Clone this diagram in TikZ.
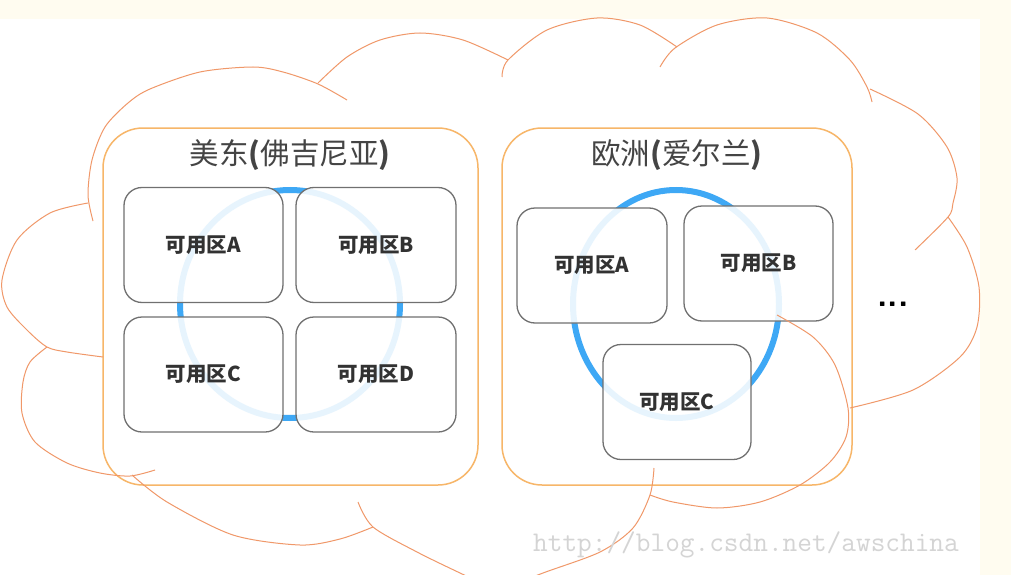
\documentclass[tikz,border=0pt]{standalone}
\usepackage{fontspec}
\newfontfamily\cjk{Noto Sans CJK SC}
\usepackage{tikz}
\usetikzlibrary{positioning}
\definecolor{paper}{RGB}{255,252,240}
\definecolor{cloudline}{RGB}{240,152,105}
\definecolor{regionline}{RGB}{247,182,105}
\definecolor{zoneline}{RGB}{112,112,112}
\definecolor{zonetext}{RGB}{50,50,50}
\definecolor{titletext}{RGB}{68,68,68}
\definecolor{ringblue}{RGB}{62,168,245}
\definecolor{markgray}{RGB}{212,212,212}
\tikzset{>=latex,
  cloudarc/.style={draw=cloudline,line width=1pt},
  region/.style={draw=regionline,line width=1.5pt,rounded corners=40pt,
    minimum height=357pt,inner sep=0pt},
  zone/.style={draw=zoneline,line width=1.3pt,rounded corners=18pt,
    fill=white,fill opacity=0.88,text opacity=1,text=zonetext,
    minimum height=115pt,inner sep=0pt,
    font=\cjk\bfseries\fontsize{20.5}{22}\selectfont},
  ring/.style={draw=ringblue,line width=6pt},
  title/.style={text=titletext,font=\cjk\fontsize{29.5}{31}\selectfont}
}

\begin{document}
\begin{tikzpicture}[x=1pt,y=-1pt]
\useasboundingbox (0,0) rectangle (1011,575);
\clip (0,0) rectangle (1011,575);
\fill [paper] (0,0) rectangle (1011,575);
\fill [white] (0,19) rectangle (980,575);
% availability rings
\draw [ring] (290,304) ellipse [x radius=110pt,y radius=114pt];
\draw [ring] (676,304) ellipse [x radius=103pt,y radius=114pt];
% regions
\node [region,minimum width=375pt] (east) at (290.5,306.5) {};
\node [region,minimum width=350pt] (europe) at (677,306.5) {};
\node [title] (eastname) at (290,155) {美东{\bfseries(}佛吉尼亚{\bfseries)}};
\node [title] (europename) at (677,155) {欧洲{\bfseries(}爱尔兰{\bfseries)}};
% zones
\node [zone,minimum width=159pt] (ea) at (203.5,245) {可用区A};
\node [zone,minimum width=160pt] (eb) at (376,245) {可用区B};
\node [zone,minimum width=159pt] (ec) at (203.5,374.5) {可用区C};
\node [zone,minimum width=160pt] (ed) at (376,374.5) {可用区D};
\node [zone,minimum width=150pt] (wa) at (592,265.5) {可用区A};
\node [zone,minimum width=149pt] (wb) at (758.5,263.5) {可用区B};
\node [zone,minimum width=148pt] (wc) at (677,402) {可用区C};
% cloud
\draw [cloudarc] plot [smooth] coordinates {(93,221) (88,195) (92,160) (105,127) (128,103) (150,89) (200,72) (253,67) (283,72) (318,84) (347,100)};
\draw [cloudarc] plot [smooth] coordinates {(318,83) (347,57) (380,40) (420,33) (463,40) (508,60)};
\draw [cloudarc] plot [smooth] coordinates {(502,77) (508,60) (547,30) (597,18) (640,25) (677,47)};
\draw [cloudarc] plot [smooth] coordinates {(660,67) (675,48) (717,25) (767,18) (817,33) (850,60) (867,87) (872,102)};
\draw [cloudarc] plot [smooth] coordinates {(870,89) (918,114) (947,147) (957,178) (953,203) (948,217) (915,250)};
\draw [cloudarc] plot [smooth] coordinates {(948,217) (967,247) (979,287) (977,327) (960,357) (913,390) (850,408)};
\draw [cloudarc] plot [smooth] coordinates {(777,315) (813,337) (835,365) (848,408) (846,437) (830,462) (800,485) (760,502) (717,508) (673,502) (650,495)};
\draw [cloudarc] plot [smooth] coordinates {(654,468) (650,495) (633,528) (600,552) (543,573) (500,590)};
\draw [cloudarc] plot [smooth] coordinates {(358,502) (373,527) (417,552) (460,573) (490,587)};
\draw [cloudarc] plot [smooth] coordinates {(132,475) (167,502) (233,535) (300,545) (340,539) (373,527)};
\draw [cloudarc] plot [smooth] coordinates {(47,347) (30,362) (23,382) (22,413) (35,442) (67,463) (100,473) (130,476) (155,470)};
\draw [cloudarc] plot [smooth] coordinates {(88,203) (50,213) (17,240) (2,280) (7,307) (27,330) (47,347) (67,352) (103,357)};
% more regions
\node [font=\sffamily\bfseries\fontsize{34}{34}\selectfont] (more) at (893,304) {...};
% watermark
\node [text=markgray,font=\ttfamily\fontsize{28.5}{30}\selectfont] (mark) at (746,545) {http://blog.csdn.net/awschina};
\end{tikzpicture}
\end{document}
